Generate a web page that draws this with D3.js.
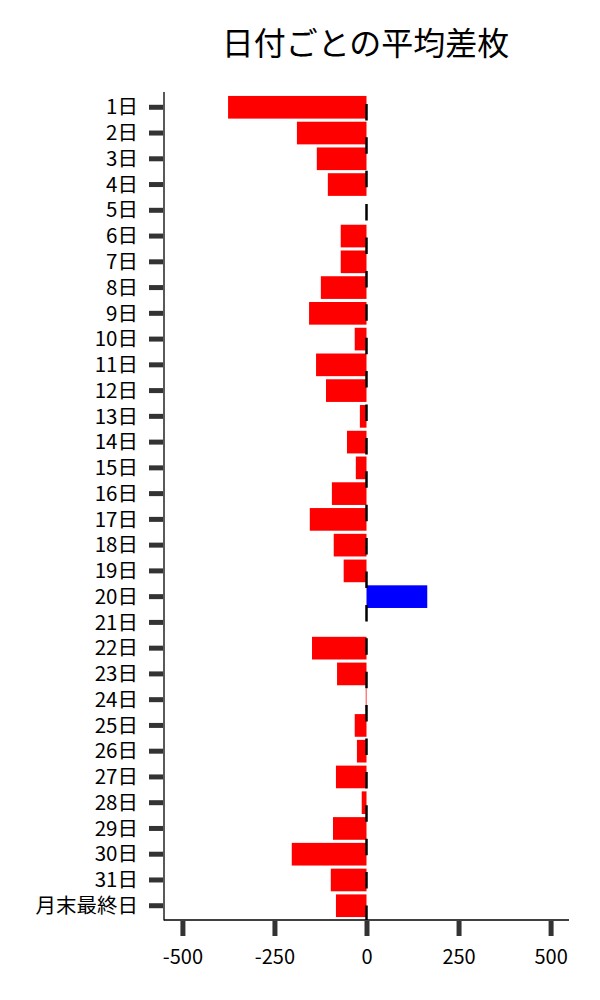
<!DOCTYPE html>
<html>
<head>
<meta charset="utf-8">
<script src="https://cdn.jsdelivr.net/npm/d3@7"></script>
<style>
  body { margin: 0; background: #fff; }
  text { font-family: "Noto Sans CJK JP", "Noto Sans", sans-serif; }
</style>
</head>
<body>
<script>
// chart data
var days = ["1日","2日","3日","4日","5日","6日","7日","8日","9日","10日",
            "11日","12日","13日","14日","15日","16日","17日","18日","19日","20日",
            "21日","22日","23日","24日","25日","26日","27日","28日","29日","30日",
            "31日","月末最終日"];
var avgDiff = [-376,-189,-135,-105,0,-70,-70,-124,-156,-32,
               -137,-110,-18,-53,-29,-94,-154,-89,-62,165,
               0,-148,-80,-2,-32,-26,-83,-13,-91,-203,
               -97,-83];
var xTicks = [-500,-250,0,250,500];
var title = "日付ごとの平均差枚";

var w = 600, h = 1000;
var mLeft = 164, mRight = 569, mTop = 92, mBottom = 920;

var svg = d3.select("body").append("svg")
  .attr("width", w)
  .attr("height", h);

var x = d3.scaleLinear().domain([-550, 550]).range([mLeft, mRight]);
var y = d3.scaleBand().domain(days).range([mTop + 2.4, mBottom - 1.4]).paddingInner(0.12).paddingOuter(0.06);

// bars
svg.selectAll("rect.bar")
  .data(days)
  .enter().append("rect")
  .attr("class", "bar")
  .attr("x", function(d, i){ return Math.min(x(avgDiff[i]), x(0)); })
  .attr("y", function(d){ return y(d); })
  .attr("width", function(d, i){ return Math.abs(x(avgDiff[i]) - x(0)); })
  .attr("height", y.bandwidth())
  .style("fill", function(d, i){ return avgDiff[i] >= 0 ? "#0000ff" : "#ff0000"; });

// dashed zero line
svg.append("line")
  .attr("x1", x(0)).attr("x2", x(0))
  .attr("y1", mTop).attr("y2", mBottom)
  .style("stroke", "#000")
  .style("stroke-width", 2.5)
  .style("stroke-dasharray", "16.5,16.9")
  .style("stroke-dashoffset", 21.5);

// y axis
var yAxis = svg.append("g")
  .attr("transform", "translate(" + mLeft + ",0)")
  .call(d3.axisLeft(y).tickSize(0).tickPadding(0));
yAxis.select(".domain").remove();
yAxis.selectAll(".tick line").remove();
yAxis.selectAll(".tick").append("line")
  .attr("x1", -15).attr("x2", -1)
  .style("stroke", "#333").style("stroke-width", 5);
yAxis.selectAll(".tick text")
  .attr("x", -26)
  .attr("dy", "0.35em")
  .style("font-size", "20.5px")
  .style("fill", "#000");

// x axis
var xAxis = svg.append("g")
  .attr("transform", "translate(0," + mBottom + ")")
  .call(d3.axisBottom(x).tickValues(xTicks).tickSize(0).tickFormat(function(d){ return String(d); }));
xAxis.select(".domain").remove();
xAxis.selectAll(".tick line").remove();
xAxis.selectAll(".tick").append("line")
  .attr("y1", 1).attr("y2", 16)
  .style("stroke", "#333").style("stroke-width", 5);
xAxis.selectAll(".tick text")
  .attr("y", 44)
  .attr("dy", 0)
  .style("font-size", "20px")
  .style("fill", "#000");

// spines
svg.append("line")
  .attr("x1", mLeft).attr("x2", mLeft)
  .attr("y1", mTop).attr("y2", mBottom + 0.5)
  .style("stroke", "#000").style("stroke-width", 1.3);
svg.append("line")
  .attr("x1", mLeft).attr("x2", mRight)
  .attr("y1", mBottom).attr("y2", mBottom)
  .style("stroke", "#000").style("stroke-width", 1.3);

// title
svg.append("text")
  .attr("x", (mLeft + mRight) / 2 - 1)
  .attr("y", 55)
  .attr("text-anchor", "middle")
  .style("font-size", "32px")
  .style("fill", "#000")
  .text(title);
</script>
</body>
</html>
